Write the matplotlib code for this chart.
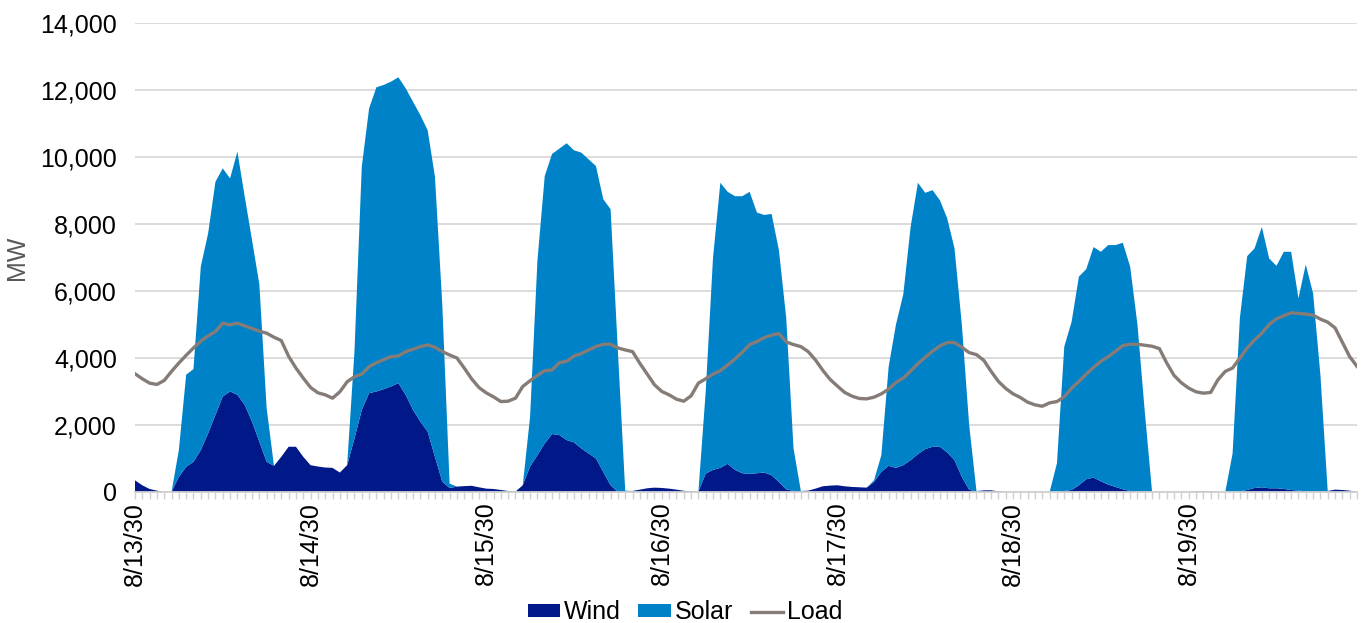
import numpy as np
import matplotlib
matplotlib.use("Agg")
from matplotlib import pyplot as plt
from matplotlib.ticker import FuncFormatter, MultipleLocator

# hourly values, 8/13 00:00 .. 8/19 23:00 (MW)
wind = [350, 200, 90, 40, 0, 0, 450, 750, 900, 1250, 1750, 2300, 2850, 3000, 2900, 2600, 2100, 1500, 900, 780, 1050, 1350, 1350, 1050,
        800, 760, 730, 720, 580, 800, 1600, 2450, 2950, 3000, 3070, 3150, 3250, 2900, 2450, 2100, 1800, 1050, 310, 120, 160, 175, 185, 140,
        100, 90, 60, 30, 10, 200, 760, 1100, 1450, 1730, 1700, 1550, 1480, 1300, 1150, 1000, 600, 200, 0, 0, 30, 70, 110, 130,
        120, 100, 70, 35, 20, 10, 550, 660, 720, 840, 660, 560, 540, 560, 580, 500, 300, 80, 30, 30, 40, 100, 170, 190,
        200, 170, 150, 140, 130, 300, 600, 780, 720, 800, 950, 1130, 1280, 1350, 1350, 1180, 950, 450, 70, 10, 50, 50, 20, 0,
        0, 0, 0, 0, 0, 0, 10, 30, 60, 200, 380, 430, 320, 220, 150, 80, 30, 10, 0, 0, 0, 0, 0, 0,
        0, 15, 15, 15, 0, 0, 5, 20, 60, 120, 140, 110, 110, 90, 60, 40, 20, 0, 0, 30, 70, 60, 40, 0]

solar = [0, 0, 0, 0, 0, 0, 800, 2750, 2770, 5480, 5970, 6960, 6810, 6360, 7260, 6220, 5420, 4700, 1600, 0, 0, 0, 0, 0,
         0, 0, 0, 0, 0, 0, 2600, 7260, 8500, 9080, 9080, 9100, 9130, 9150, 9200, 9150, 9000, 8360, 5290, 130, 0, 0, 0, 0,
         0, 0, 0, 0, 0, 0, 1490, 5800, 7980, 8360, 8550, 8860, 8720, 8830, 8780, 8730, 8140, 8240, 4200, 40, 0, 0, 0, 0,
         0, 0, 0, 0, 0, 0, 2450, 6340, 8510, 8120, 8170, 8270, 8420, 7780, 7690, 7800, 6920, 5120, 1270, 0, 0, 0, 0, 0,
         0, 0, 0, 0, 0, 50, 500, 2960, 4280, 5100, 6960, 8100, 7650, 7660, 7360, 6990, 6320, 4550, 1930, 20, 0, 0, 0, 0,
         0, 0, 0, 0, 0, 0, 850, 4310, 5020, 6230, 6270, 6880, 6850, 7150, 7220, 7360, 6700, 4990, 2400, 0, 0, 0, 0, 0,
         0, 0, 0, 0, 0, 0, 1145, 5180, 6980, 7150, 7770, 6860, 6640, 7080, 7110, 5740, 6770, 5930, 3500, 0, 0, 0, 0, 0]

load = [3530, 3380, 3250, 3210, 3330, 3600, 3850, 4080, 4300, 4500, 4660, 4790, 5040, 4990, 5040, 4960, 4880, 4800, 4740, 4620, 4520, 4050, 3700, 3400,
        3120, 2960, 2900, 2800, 2990, 3290, 3440, 3520, 3740, 3860, 3950, 4040, 4060, 4190, 4260, 4340, 4390, 4320, 4190, 4090, 4000, 3700, 3380, 3120,
        2960, 2840, 2700, 2710, 2800, 3150, 3320, 3480, 3620, 3640, 3860, 3900, 4060, 4130, 4240, 4340, 4410, 4410, 4300, 4240, 4190, 3840, 3520, 3200,
        3000, 2900, 2770, 2710, 2870, 3250, 3380, 3520, 3620, 3790, 3970, 4170, 4400, 4490, 4610, 4680, 4730, 4480, 4400, 4340, 4190, 3940, 3630, 3360,
        3160, 2970, 2860, 2790, 2780, 2830, 2930, 3070, 3270, 3400, 3610, 3830, 4020, 4200, 4360, 4460, 4460, 4320, 4160, 4100, 3930, 3600, 3300, 3090,
        2930, 2820, 2680, 2600, 2560, 2660, 2700, 2840, 3100, 3300, 3520, 3720, 3900, 4040, 4200, 4370, 4410, 4410, 4380, 4350, 4280, 3850, 3480, 3260,
        3100, 2990, 2950, 2970, 3350, 3600, 3700, 4000, 4300, 4540, 4740, 5000, 5170, 5260, 5350, 5330, 5310, 5280, 5160, 5070, 4900, 4470, 4040, 3750]

day_labels = ["8/13/30", "8/14/30", "8/15/30", "8/16/30", "8/17/30", "8/18/30", "8/19/30"]

plt.rcParams["font.family"] = ["Liberation Sans", "DejaVu Sans"]

hours = np.arange(len(load))

fig = plt.figure(figsize=(13.7, 6.23), dpi=100)
ax = fig.add_axes([0.0985, 0.2103, 0.892, 0.7528])

ax.stackplot(hours, wind, solar, colors=["#001888", "#0082C8"],
             labels=["Wind", "Solar"], linewidth=0, zorder=2)
ax.plot(hours, load, color="#857C77", linewidth=2.4, label="Load", zorder=3)

ax.set_xlim(0, len(load) - 1)
ax.set_ylim(0, 14000)
ax.yaxis.set_major_locator(MultipleLocator(2000))
ax.yaxis.set_major_formatter(FuncFormatter(lambda v, p: "{:,.0f}".format(v)))
ax.grid(axis="y", color="#D9D9D9", linewidth=1.3, zorder=0)
ax.set_axisbelow(True)

ax.set_xticks(np.arange(0, len(load), 24))
ax.set_xticklabels(day_labels, rotation=90)
ax.xaxis.set_minor_locator(MultipleLocator(1))

for s in ["top", "right", "left"]:
    ax.spines[s].set_visible(False)
ax.spines["bottom"].set_color("#D0D0D0")
ax.spines["bottom"].set_linewidth(1.3)
ax.spines["bottom"].set_zorder(4)

ax.tick_params(axis="y", length=0, pad=13, labelsize=18)
ax.tick_params(axis="x", which="both", length=5, color="#D0D0D0", width=1,
               labelsize=18, pad=2)

ax.set_ylabel("MW", fontsize=18, color="#595959")
ax.yaxis.set_label_coords(-0.087, 0.5)

handles, labels = ax.get_legend_handles_labels()
fig.legend(handles, labels, loc="center", bbox_to_anchor=(0.5, 0.017), ncol=3,
           frameon=False, fontsize=18, handlelength=1.3, handleheight=0.4,
           handletextpad=0.15, columnspacing=0.7)

fig.savefig("out.png", dpi=100)
